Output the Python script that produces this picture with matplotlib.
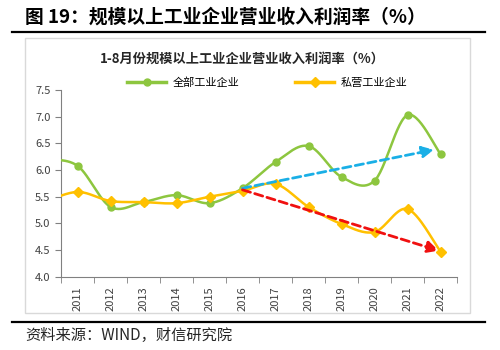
import numpy as np
import matplotlib.pyplot as plt
from matplotlib.patches import Rectangle
from matplotlib.lines import Line2D

plt.rcParams['font.family'] = ['Noto Sans CJK SC', 'DejaVu Sans']

years = ['2011', '2012', '2013', '2014', '2015', '2016',
         '2017', '2018', '2019', '2020', '2021', '2022']
# 2010 value only shows as the clipped curve at the left edge
all_prev = 6.20
private_prev = 5.40
all_ind = [6.08, 5.31, 5.40, 5.53, 5.38, 5.66, 6.15, 6.45, 5.87, 5.80, 7.03, 6.30]
private_ind = [5.59, 5.42, 5.40, 5.38, 5.50, 5.61, 5.74, 5.31, 4.99, 4.84, 5.27, 4.47]
blue_arrow = [(5, 5.66), (10.8, 6.38)]
red_arrow = [(5, 5.63), (10.95, 4.49)]

green = '#8DC63F'
orange = '#FFC000'


def smooth(xs, ys, n=30):
    # catmull-rom, roughly what excel's smoothed line looks like
    xs = np.asarray(xs, float)
    ys = np.asarray(ys, float)
    px = np.concatenate([[xs[0]], xs, [xs[-1]]])
    py = np.concatenate([[ys[0]], ys, [ys[-1]]])
    ox, oy = [], []
    t = np.linspace(0, 1, n)
    for i in range(1, len(px) - 2):
        for p, out in ((px, ox), (py, oy)):
            p0, p1, p2, p3 = p[i - 1], p[i], p[i + 1], p[i + 2]
            out.extend(0.5 * (2 * p1 + (-p0 + p2) * t
                              + (2 * p0 - 5 * p1 + 4 * p2 - p3) * t ** 2
                              + (-p0 + 3 * p1 - 3 * p2 + p3) * t ** 3))
    return ox, oy


fig = plt.figure(figsize=(5, 3.5), dpi=100)
ax = fig.add_axes([0.122, 0.209, 0.792, 0.534])

x = np.arange(len(years))
xe = np.concatenate([[-1], x])

sx, sy = smooth(xe, [all_prev] + all_ind)
ax.plot(sx, sy, color=green, lw=1.8, zorder=3)
ax.plot(x, all_ind, 'o', color=green, ms=5, zorder=4)
sx, sy = smooth(xe, [private_prev] + private_ind)
ax.plot(sx, sy, color=orange, lw=1.8, zorder=3)
ax.plot(x, private_ind, 'D', color=orange, ms=5, zorder=4)

for pts, c in ((blue_arrow, '#1AAFE6'), (red_arrow, '#F01010')):
    (x0, y0), (x1, y1) = pts
    ax.annotate('', xy=(x1, y1), xytext=(x0, y0), zorder=5,
                arrowprops=dict(arrowstyle='-|>,head_length=0.7,head_width=0.35',
                                color=c, lw=2, linestyle=(0, (3, 1.6)),
                                shrinkA=0, shrinkB=0))

ax.set_xlim(-0.5, 11.5)
ax.set_ylim(4.0, 7.5)
ax.set_yticks(np.arange(4.0, 7.51, 0.5))
ax.set_yticklabels(['%.1f' % v for v in np.arange(4.0, 7.51, 0.5)])
ax.set_xticks(x)
ax.set_xticklabels(years, rotation=90)
ax.set_xticks(np.arange(-0.5, 12, 1), minor=True)
ax.tick_params(axis='x', which='major', length=0, labelsize=8, pad=7, colors='#404040')
ax.tick_params(axis='x', which='minor', length=4, color='#808080')
ax.tick_params(axis='y', length=4, labelsize=8, color='#808080', labelcolor='#404040')
for s in ('top', 'right'):
    ax.spines[s].set_visible(False)
for s in ('left', 'bottom'):
    ax.spines[s].set_color('#808080')

fig.patches.append(Rectangle((0.05, 0.106), 0.89, 0.785, transform=fig.transFigure,
                             fill=False, edgecolor='#D9D9D9', lw=1))
fig.add_artist(Line2D([0.024, 0.97], [0.908, 0.908], color='black', lw=1.6))
fig.add_artist(Line2D([0.024, 0.97], [0.08, 0.08], color='black', lw=1.6))

fig.text(0.05, 0.952, '图 19：规模以上工业企业营业收入利润率（%）', fontsize=13.5,
         fontweight='bold', va='center', ha='left')
fig.text(0.485, 0.832, '1-8月份规模以上工业企业营业收入利润率（%）', fontsize=9.5,
         fontweight='bold', va='center', ha='center', color='#262626')
fig.text(0.05, 0.042, '资料来源：WIND，财信研究院', fontsize=11, style='italic',
         va='center', ha='left', color='#262626')

handles = [Line2D([], [], color=green, lw=2.5, marker='o', ms=5),
           Line2D([], [], color=orange, lw=2.5, marker='D', ms=5)]
fig.legend(handles, ['全部工业企业', '私营工业企业'], ncol=2, frameon=False,
           loc='center', bbox_to_anchor=(0.535, 0.765), fontsize=8,
           handlelength=3.5, columnspacing=5, handletextpad=0.6)

fig.savefig('out.png', dpi=100)
